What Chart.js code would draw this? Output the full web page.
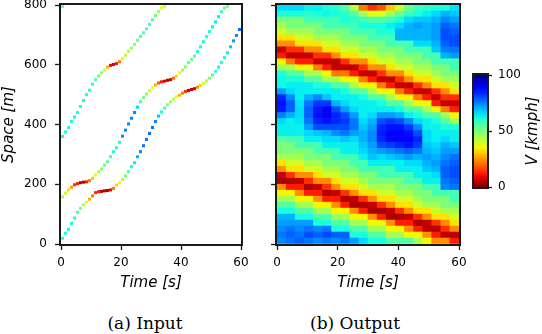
<!DOCTYPE html>
<html>
<head>
<meta charset="utf-8">
<script src="https://cdn.jsdelivr.net/npm/chart.js@4"></script>
<style>
  html, body { margin: 0; padding: 0; background: #fff; }
  #wrap { position: relative; width: 542px; height: 334px; overflow: hidden; }
  canvas { position: absolute; top: 0; }
  .cap { position: absolute; top: 313px; line-height: 20px; font-family: "DejaVu Serif", serif; font-size: 17px; color: #000; transform: translateX(-50%); white-space: nowrap; }
</style>
</head>
<body>
<div id="wrap">
  <canvas id="inputChart" width="252" height="300" style="left:0"></canvas>
  <canvas id="outputChart" width="210" height="300" style="left:260px"></canvas>
  <canvas id="barChart" width="82" height="300" style="left:460px"></canvas>
  <div class="cap" style="left:145px">(a) Input</div>
  <div class="cap" style="left:355px">(b) Output</div>
</div>
<script>
// ---- data ----
var timeTicks = [0, 20, 40, 60];
var spaceTicks = [0, 200, 400, 600, 800];
var speedTicks = [0, 50, 100];

// probe vehicles, one cell per second (t = 0, 1, 2 ...), space in m, speed in kmph
var carA_space = [360,375,390,410,425,440,460,480,500,515,535,550,562,573,582,592,598,601,604,610,620,632,645,656,668,682,695,707,720,735,750,765,778,790,795];
var carA_speed = [62,62,62,62,62,62,62,62,60,60,60,55,52,48,40,28,10,8,12,22,35,42,45,46,48,52,56,56,56,56,56,50,45,38,36];
var carB_space = [158,170,181,190,198,202,205,207,208,212,220,231,242,251,264,275,292,309,322,340,361,381,402,421,440,458,476,490,502,513,524,532,539,543,545,548,550,555,562,573,582,593,607,618,629,644,660,677,694,711,727,743,761,777,790,795];
var carB_speed = [46,40,32,25,14,12,5,5,12,22,30,38,44,48,52,55,58,62,62,62,74,74,74,74,74,66,58,52,46,42,36,28,18,12,8,5,8,20,32,38,45,50,52,52,56,62,62,62,62,62,64,64,64,58,52,48];
var carC_space = [19,36,49,69,87,106,119,131,140,150,161,172,175,176,178,179,181,186,197,205,216,228,242,259,272,292,309,329,350,370,390,410,428,442,455,466,476,485,493,498,505,511,514,517,520,525,531,538,546,555,566,578,592,608,624,640,660,680,698,718];
var carC_speed = [62,62,62,62,62,56,50,44,38,28,22,14,12,5,5,5,10,22,32,38,44,50,56,62,64,70,74,76,76,76,76,74,68,62,56,50,46,42,36,28,22,14,8,6,8,24,32,38,44,50,54,58,62,62,62,64,68,72,74,76];
var carD_space = [795];
var carD_speed = [52];

// estimated speed field (output), 3 s x 20 m cells
var timeBins = [1.5,4.5,7.5,10.5,13.5,16.5,19.5,22.5,25.5,28.5,31.5,34.5,37.5,40.5,43.5,46.5,49.5,52.5,55.5,58.5];
var spaceBins = [10,30,50,70,90,110,130,150,170,190,210,230,250,270,290,310,330,350,370,390,410,430,450,470,490,510,530,550,570,590,610,630,650,670,690,710,730,750,770,790];
// one row per time bin, values from space 10 m up to 790 m
var heatSpeeds = [
  [74,76,74,72,70,62,55,45,35,24,4,6,24,33,45,50,50,55,64,64,66,75,85,86,84,72,63,63,62,45,35,12,6,24,33,40,45,50,62,66],
  [76,78,76,72,70,62,55,45,35,12,4,14,33,40,45,50,50,57,64,64,64,70,78,78,74,66,64,62,55,45,22,6,14,24,33,45,50,50,62,66],
  [78,76,74,72,62,55,45,35,24,12,6,24,33,40,45,50,57,57,64,64,65,66,66,65,64,64,64,62,55,35,12,6,14,33,40,45,50,50,62,66],
  [76,80,76,72,62,55,45,35,12,4,14,24,40,45,50,50,57,64,66,72,76,78,78,76,70,64,64,55,45,35,12,6,24,33,40,45,50,57,60,64],
  [74,78,74,62,55,45,35,24,12,6,24,33,40,45,50,57,57,64,68,80,84,86,85,82,74,64,62,55,45,22,6,14,24,33,45,50,50,57,62,64],
  [76,80,76,62,55,45,35,12,4,14,24,40,45,50,50,57,64,66,70,80,86,90,88,82,68,64,62,45,35,12,6,14,33,40,45,50,57,57,63,62],
  [74,78,62,55,45,35,24,12,6,24,33,40,45,50,57,57,64,66,74,80,84,84,80,70,64,64,55,45,22,6,6,24,33,40,45,50,57,57,62,60],
  [76,78,62,55,45,35,12,4,14,33,40,45,50,50,57,64,64,68,76,80,82,80,72,66,64,62,55,35,22,6,14,33,40,45,50,50,57,62,60,55],
  [72,62,55,45,35,24,4,6,24,33,40,45,50,57,57,64,64,66,72,76,76,72,66,64,64,55,45,35,12,6,24,33,40,45,50,57,57,60,55,42],
  [66,62,55,45,35,12,4,14,33,40,45,50,57,57,64,66,68,70,70,68,66,64,64,64,62,55,35,22,6,14,24,40,45,50,50,57,62,58,45,22],
  [62,55,45,35,24,4,6,24,33,45,50,50,57,64,68,70,72,74,74,72,70,66,64,64,55,45,35,12,6,24,33,40,45,50,57,57,62,55,38,14],
  [62,55,45,35,12,4,14,33,40,45,50,57,57,64,66,72,80,84,85,84,80,72,64,62,55,35,22,6,14,24,40,45,50,50,57,62,62,55,38,18],
  [55,45,35,24,4,6,24,33,40,45,50,57,57,64,68,74,82,87,88,86,82,72,64,55,45,35,12,6,24,33,40,45,50,57,57,62,64,58,45,30],
  [55,45,35,12,4,14,33,40,45,50,50,57,64,64,70,76,84,88,88,86,80,70,62,55,35,22,6,14,24,40,45,50,50,57,70,70,66,62,52,40],
  [55,35,24,12,6,24,33,40,45,50,57,57,64,66,72,78,86,88,86,82,74,64,55,45,35,12,6,24,33,40,45,50,57,57,70,70,70,66,58,52],
  [45,35,12,4,14,33,40,45,50,50,57,64,64,66,70,76,82,84,80,74,66,62,55,35,22,6,14,33,40,45,50,50,57,66,70,70,72,68,62,58],
  [35,24,5,6,24,33,45,50,50,57,64,64,68,70,72,70,68,66,66,64,64,55,45,35,12,6,24,33,40,45,50,57,57,66,70,70,70,68,64,60],
  [24,12,4,14,33,40,45,50,57,57,64,66,70,72,70,68,66,64,64,64,62,55,35,12,6,14,33,40,45,50,57,57,68,70,72,72,72,70,66,62],
  [24,5,14,24,33,45,50,50,57,74,76,78,78,76,74,72,70,66,64,62,55,45,22,6,14,24,33,45,50,50,57,70,75,78,80,80,78,74,70,62],
  [12,5,24,33,40,45,50,57,57,76,78,80,80,78,76,72,68,64,64,62,45,35,12,6,14,33,40,45,50,57,57,72,76,80,80,78,76,72,68,65]
];

// ---- colours: reversed jet, 0 kmph = dark red, 100 kmph = dark blue ----
var JET = {
  r: [[0, 0], [0.35, 0], [0.66, 1], [0.89, 1], [1, 0.5]],
  g: [[0, 0], [0.125, 0], [0.375, 1], [0.64, 1], [0.91, 0], [1, 0]],
  b: [[0, 0.5], [0.11, 1], [0.34, 1], [0.65, 0], [1, 0]]
};
function channel(pts, x) {
  for (var i = 1; i < pts.length; i++) {
    if (x <= pts[i][0]) {
      var a = pts[i - 1], b = pts[i];
      return a[1] + (b[1] - a[1]) * (x - a[0]) / (b[0] - a[0]);
    }
  }
  return pts[pts.length - 1][1];
}
function speedColor(v) {
  var x = 1 - Math.min(Math.max(v / 100, 0), 1);
  return 'rgb(' + Math.round(255 * channel(JET.r, x)) + ',' +
    Math.round(255 * channel(JET.g, x)) + ',' + Math.round(255 * channel(JET.b, x)) + ')';
}

Chart.defaults.font.family = 'DejaVu Sans';
Chart.defaults.color = '#000';

// axes box, drawn over the plot edges like matplotlib spines
var frame = {
  id: 'frame',
  afterDraw: function (chart) {
    var a = chart.chartArea, ctx = chart.ctx;
    ctx.save();
    ctx.strokeStyle = '#1a1a1a';
    ctx.lineWidth = 2;
    ctx.strokeRect(a.left - 1, a.top - 1, a.right - a.left + 2, a.bottom - a.top + 2);
    ctx.restore();
  }
};

function fixWidth(w) {
  return function (s) { s.width = w; s.paddingTop = 0; s.paddingBottom = 0; };
}
function fixHeight(h) {
  return function (s) { s.height = h; s.paddingLeft = 0; s.paddingRight = 0; };
}
function setTicks(list) {
  return function (s) { s.ticks = list.map(function (v) { return { value: v }; }); };
}
var axisGrid = { drawOnChartArea: false, drawTicks: true, tickLength: 6, tickWidth: 1.3, color: '#1a1a1a', offset: false };
var titleFont = { family: 'DejaVu Sans', size: 15, style: 'italic' };

function timeAxis() {
  return {
    type: 'linear', min: 0, max: 60, offset: false,
    afterBuildTicks: setTicks(timeTicks),
    ticks: { font: { size: 12 }, padding: 6, maxRotation: 0 },
    grid: axisGrid,
    border: { display: false },
    title: { display: true, text: 'Time [s]', font: titleFont, padding: { top: 0, bottom: 8 } },
    afterFit: fixHeight(56)
  };
}

// ---- (a) input ----
var cars = [
  { space: carA_space, speed: carA_speed },
  { space: carB_space, speed: carB_speed },
  { space: carC_space, speed: carC_speed },
  { space: carD_space, speed: carD_speed }
];
new Chart(document.getElementById('inputChart'), {
  type: 'scatter',
  data: {
    datasets: cars.map(function (car) {
      var colors = car.speed.map(speedColor);
      return {
        data: car.space.map(function (s, i) { return { x: i + 0.5, y: s }; }),
        showLine: false,
        pointStyle: 'rect',
        pointRadius: 2.15,
        pointHoverRadius: 2.15,
        pointBorderWidth: 0,
        borderColor: colors,
        backgroundColor: colors,
        pointBackgroundColor: colors,
        pointBorderColor: colors
      };
    })
  },
  options: {
    responsive: false,
    animation: false,
    events: [],
    layout: { padding: { top: 5, right: 11, left: 0, bottom: 0 } },
    plugins: { legend: { display: false }, tooltip: { enabled: false } },
    scales: {
      x: timeAxis(),
      y: {
        type: 'linear', min: 0, max: 800,
        afterBuildTicks: setTicks(spaceTicks),
        ticks: { font: { size: 12 }, padding: 8 },
        grid: axisGrid,
        border: { display: false },
        title: { display: true, text: 'Space [m]', font: titleFont, padding: { top: 0, bottom: 0 } },
        afterFit: fixWidth(61)
      }
    }
  },
  plugins: [frame]
});

// ---- (b) output ----
new Chart(document.getElementById('outputChart'), {
  type: 'bar',
  data: {
    datasets: spaceBins.map(function (s, r) {
      return {
        data: timeBins.map(function (t) { return { x: t, y: [s - 10, s + 10] }; }),
        backgroundColor: timeBins.map(function (t, c) { return speedColor(heatSpeeds[c][r]); }),
        borderWidth: 0,
        barPercentage: 1,
        categoryPercentage: 1,
        grouped: false
      };
    })
  },
  options: {
    responsive: false,
    animation: false,
    events: [],
    layout: { padding: { top: 5, right: 11, left: 0, bottom: 0 } },
    plugins: { legend: { display: false }, tooltip: { enabled: false } },
    scales: {
      x: timeAxis(),
      y: {
        type: 'linear', min: 0, max: 800,
        afterBuildTicks: setTicks(spaceTicks),
        ticks: { callback: function () { return ''; } },
        grid: axisGrid,
        border: { display: false },
        afterFit: fixWidth(17)
      }
    }
  },
  plugins: [frame]
});

// ---- colour bar ----
var colorbar = {
  id: 'colorbar',
  beforeDatasetsDraw: function (chart) {
    var a = chart.chartArea, ctx = chart.ctx, y = chart.scales.y;
    var g = ctx.createLinearGradient(0, y.getPixelForValue(0), 0, y.getPixelForValue(100));
    for (var k = 0; k <= 20; k++) g.addColorStop(k / 20, speedColor(k * 5));
    ctx.save();
    ctx.fillStyle = g;
    ctx.fillRect(a.left, a.top, a.right - a.left, a.bottom - a.top);
    ctx.restore();
  },
  afterDraw: function (chart) {
    var ctx = chart.ctx;
    ctx.save();
    ctx.translate(73, 131);
    ctx.rotate(-Math.PI / 2);
    ctx.font = 'italic 15px "DejaVu Sans"';
    ctx.fillStyle = '#000';
    ctx.textAlign = 'center';
    ctx.textBaseline = 'middle';
    ctx.fillText('V [kmph]', 0, 0);
    ctx.restore();
  }
};
new Chart(document.getElementById('barChart'), {
  type: 'scatter',
  data: { datasets: [{ data: [] }] },
  options: {
    responsive: false,
    animation: false,
    events: [],
    layout: { padding: { top: 75, right: 0, left: 14, bottom: 113 } },
    plugins: { legend: { display: false }, tooltip: { enabled: false } },
    scales: {
      x: { display: false, min: 0, max: 1 },
      y: {
        type: 'linear', position: 'right', min: 0, max: 100,
        afterBuildTicks: setTicks(speedTicks),
        ticks: { font: { size: 12 }, padding: 6 },
        grid: { drawOnChartArea: false, drawTicks: true, tickLength: 5, tickWidth: 1.3, color: '#1a1a1a' },
        border: { display: false },
        afterFit: fixWidth(55)
      }
    }
  },
  plugins: [colorbar, frame]
});
</script>
</body>
</html>
